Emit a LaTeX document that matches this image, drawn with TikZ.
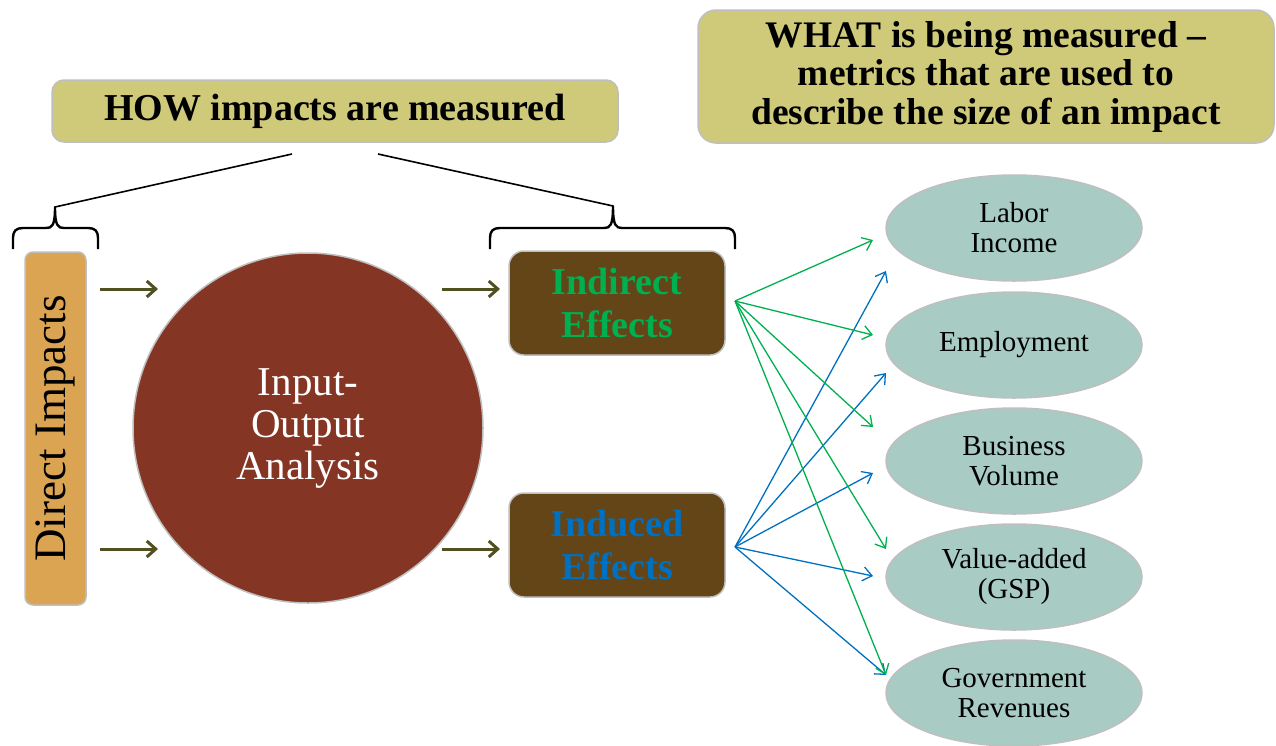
\documentclass[tikz,border=0pt]{standalone}
\usepackage{fontspec}
\setmainfont{Liberation Serif}
\usetikzlibrary{arrows.meta,calc,shapes.geometric}
\definecolor{headfill}{HTML}{CFC97A}
\definecolor{edgegray}{HTML}{BFBFBF}
\definecolor{directfill}{HTML}{DBA453}
\definecolor{circfill}{HTML}{843524}
\definecolor{brownfill}{HTML}{634518}
\definecolor{effgreen}{HTML}{00B050}
\definecolor{effblue}{HTML}{0070C0}
\definecolor{ellfill}{HTML}{A8CBC3}
\definecolor{olive}{HTML}{505020}
\tikzset{
  headbox/.style={draw=edgegray, line width=1.5pt, fill=headfill, rounded corners=12pt, inner sep=0pt, align=center, font=\fontsize{38}{38}\selectfont\bfseries},
  effbox/.style={draw=edgegray, line width=1.5pt, fill=brownfill, rounded corners=15pt, minimum width=216pt, minimum height=104pt, inner sep=0pt, align=center, font=\fontsize{38}{43}\selectfont\bfseries},
  metric/.style={ellipse, draw=edgegray, line width=1.5pt, fill=ellfill, minimum width=256pt, minimum height=106pt, inner sep=0pt, align=center, font=\fontsize{29}{30}\selectfont},
  olivearrow/.style={draw=olive, line width=3pt, -{Straight Barb[length=9pt,width=16pt,line width=3pt]}},
  fangreen/.style={draw=effgreen, line width=1.3pt, -{Straight Barb[length=9pt,width=14pt,line width=1.3pt]}},
  fanblue/.style={draw=effblue, line width=1.3pt, -{Straight Barb[length=9pt,width=14pt,line width=1.3pt]}},
  bracket/.style={draw=black, line width=2.4pt},
  leader/.style={draw=black, line width=1.6pt},
}
\begin{document}
\begin{tikzpicture}[x=1pt,y=-1pt]
\useasboundingbox (0,0) rectangle (1276,745);
% header boxes
\node[headbox, minimum width=566pt, minimum height=62pt] (how) at (335,111) {HOW impacts are measured};
\node[headbox, rounded corners=18pt, minimum width=576pt, minimum height=133pt, font=\fontsize{37.5}{38.5}\selectfont\bfseries] (what) at (986,76.5) {WHAT is being measured --\\metrics that are used to\\describe the size of an impact};
% direct impacts
\node[draw=edgegray, line width=1.5pt, fill=directfill, rounded corners=8pt, minimum width=61pt, minimum height=353pt, inner sep=0pt] (direct) at (55.5,428.5) {};
\node[rotate=90, font=\fontsize{45}{46}\selectfont] (directtxt) at (direct.center) {Direct Impacts};
% circle
\node[circle, draw=edgegray, line width=1.5pt, fill=circfill, minimum size=350pt, inner sep=0pt, align=center, text=white, font=\fontsize{41}{42}\selectfont] (io) at (308,428) {Input-\\Output\\Analysis};
% effects
\node[effbox, text=effgreen] (indirect) at (617,303) {Indirect\\Effects};
\node[effbox, text=effblue] (induced) at (617,545) {Induced\\Effects};
% metrics
\node[metric] (labor) at (1014,228) {Labor\\Income};
\node[metric] (employ) at (1014,345) {Employment};
\node[metric] (business) at (1014,461) {Business\\Volume};
\node[metric] (value) at (1014,577) {Value-added\\(GSP)};
\node[metric] (gov) at (1014,693) {Government\\Revenues};
% braces
\coordinate (tipL) at (55,207);
\coordinate (tipR) at (613,206);
\coordinate (howL) at (292,154);
\coordinate (howR) at (378,154);
\draw[leader] (howL) -- (tipL);
\draw[leader] (howR) -- (tipR);
\draw[bracket, line join=round] (13,249) -- (13,238) .. controls (13,231) and (16,228) .. (23,228) -- (46,228) .. controls (52,228) and (55,226) .. (tipL) .. controls (55,226) and (58,228) .. (64,228) -- (88,228) .. controls (95,228) and (98,231) .. (98,238) -- (98,249);
\draw[bracket, line join=round] (490,249) -- (490,238) .. controls (490,231) and (493,228) .. (500,228) -- (604,228) .. controls (610,228) and (613,226) .. (tipR) .. controls (613,226) and (616,228) .. (622,228) -- (725,228) .. controls (732,228) and (735,231) .. (735,238) -- (735,249);
% olive arrows
\coordinate (a1s) at (100,289); \coordinate (a1e) at (158,289);
\coordinate (a2s) at (100,549); \coordinate (a2e) at (158,549);
\coordinate (a3s) at (442,289); \coordinate (a3e) at (500,289);
\coordinate (a4s) at (442,549); \coordinate (a4e) at (500,549);
\draw[olivearrow] (a1s) -- (a1e);
\draw[olivearrow] (a2s) -- (a2e);
\draw[olivearrow] (a3s) -- (a3e);
\draw[olivearrow] (a4s) -- (a4e);
% fan sources and ends
\coordinate (srcG) at (735,301);
\coordinate (srcB) at (735,547);
\coordinate (g1) at (873,240);
\coordinate (g2) at (873,335);
\coordinate (g3) at (873,427);
\coordinate (g4) at (886,549);
\coordinate (g5) at (886,675);
\coordinate (b1) at (886,271);
\coordinate (b2) at (886,373);
\coordinate (b3) at (873,473);
\coordinate (b4) at (873,576);
\coordinate (b5) at (886,675);
\foreach \e in {b1,b2,b3,b4,b5} \draw[fanblue] (srcB) -- (\e);
\foreach \e in {g1,g2,g3,g4,g5} \draw[fangreen] (srcG) -- (\e);
\end{tikzpicture}
\end{document}
